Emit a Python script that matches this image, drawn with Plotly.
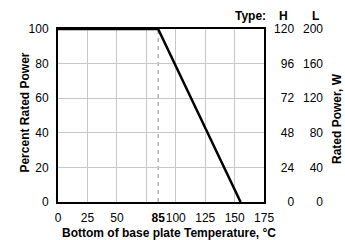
import plotly.graph_objects as go

temp = [0, 85, 155]
percent = [100, 100, 0]

x_tickvals = [0, 25, 50, 85, 100, 125, 150, 175]
x_ticktext = ["0", "25", "50", "<b>85</b>", "100", "125", "150", "175"]
x_gridvals = [25, 50, 75, 100, 125, 150]
marker_temp = 85

y_tickvals = [0, 20, 40, 60, 80, 100]
h_tickvals = [0, 24, 48, 72, 96, 120]
l_tickvals = [0, 40, 80, 120, 160, 200]

FONT = "Liberation Sans, Arial, sans-serif"
W, H = 345, 240
PL, PR, PT, PB = 57.5, 264, 29, 202  # plot area in page pixels
ML, MT = PL, PT
MB = H - PB
pw = PR - PL
ph = PB - PT
pw_full = W - ML

def pxf(x):
    return (x - ML) / pw_full

def py(y):
    return 1 - (y - MT) / ph

fig = go.Figure()
fig.add_trace(go.Scatter(x=temp, y=percent, mode="lines",
                         line=dict(color="black", width=2.5), showlegend=False,
                         hoverinfo="skip"))
fig.add_trace(go.Scatter(x=[0], y=[0], yaxis="y2", mode="markers",
                         marker=dict(opacity=0), showlegend=False, hoverinfo="skip"))
fig.add_trace(go.Scatter(x=[0], y=[0], yaxis="y3", mode="markers",
                         marker=dict(opacity=0), showlegend=False, hoverinfo="skip"))

fig.add_shape(type="line", xref="x", yref="y", x0=marker_temp, x1=marker_temp,
              y0=0, y1=100, line=dict(color="#888", width=1, dash="4px,4px"), layer="below")

fig.update_layout(
    width=W, height=H,
    margin=dict(l=ML, r=0, t=MT, b=MB, autoexpand=False),
    paper_bgcolor="white", plot_bgcolor="white",
    font=dict(family=FONT, size=12, color="black"),
    xaxis=dict(domain=[0, pw / pw_full], range=[0, 175], tickvals=x_tickvals,
               ticktext=x_ticktext, tickangle=0, automargin=False,
               showgrid=False, zeroline=False, showline=True, linecolor="black", linewidth=2,
               mirror=True, ticks="", ticklabelstandoff=4,
               minor=dict(tickvals=x_gridvals, showgrid=True, gridcolor="#c8c8c8", gridwidth=1)),
    yaxis=dict(range=[0, 100], tickvals=y_tickvals, showgrid=True, gridcolor="#c8c8c8",
               gridwidth=1, zeroline=False, showline=True, linecolor="black", linewidth=2,
               mirror=True, ticks="", ticklabelstandoff=5, automargin=False),
    yaxis2=dict(range=[0, 120], tickvals=h_tickvals, overlaying="y", side="left",
                anchor="free", position=pxf(294), showgrid=False, zeroline=False,
                showline=False, ticks="", ticklabelstandoff=0, automargin=False),
    yaxis3=dict(range=[0, 200], tickvals=l_tickvals, overlaying="y", side="left",
                anchor="free", position=pxf(323), showgrid=False, zeroline=False,
                showline=False, ticks="", ticklabelstandoff=0, automargin=False),
    annotations=[
        dict(text="<b>Type:</b>", x=pxf(268), y=py(16.5), xref="paper", yref="paper",
             xanchor="right", yanchor="middle", showarrow=False, font=dict(size=12)),
        dict(text="<b>H</b>", x=pxf(283), y=py(16.5), xref="paper", yref="paper",
             xanchor="center", yanchor="middle", showarrow=False, font=dict(size=12)),
        dict(text="<b>L</b>", x=pxf(315.5), y=py(16.5), xref="paper", yref="paper",
             xanchor="center", yanchor="middle", showarrow=False, font=dict(size=12)),
        dict(text="<b>Rated Power, W</b>", x=pxf(337), y=py(119), xref="paper", yref="paper",
             xanchor="center", yanchor="middle", showarrow=False, textangle=-90,
             font=dict(size=12)),
        dict(text="<b>Percent Rated Power</b>", x=pxf(24), y=py(113), xref="paper",
             yref="paper", xanchor="center", yanchor="middle", showarrow=False,
             textangle=-90, font=dict(size=12)),
        dict(text="<b>Bottom of base plate Temperature, °C</b>", x=pxf(169), y=py(232.5),
             xref="paper", yref="paper", xanchor="center", yanchor="middle",
             showarrow=False, font=dict(size=12)),
    ],
)

fig.write_html("out.html", config={"displayModeBar": False},
               post_script="document.body.style.margin='0';")
